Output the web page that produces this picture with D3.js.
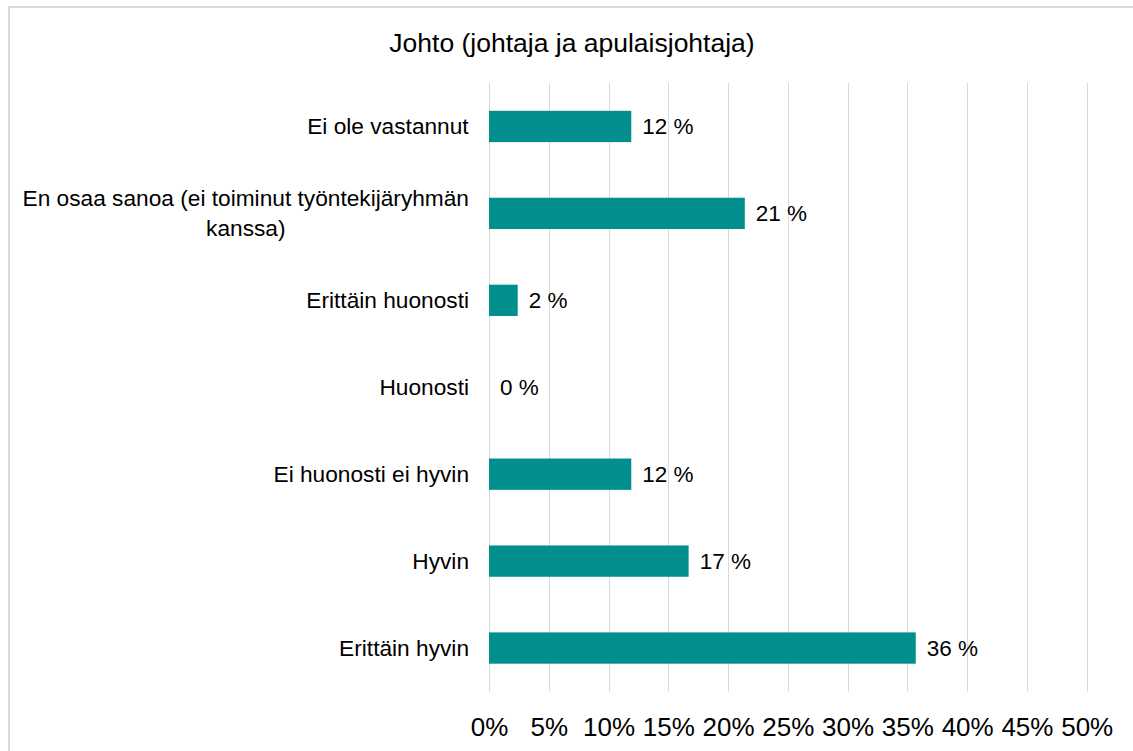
<!DOCTYPE html>
<html>
<head>
<meta charset="utf-8">
<script src="https://cdn.jsdelivr.net/npm/d3@7"></script>
<style>
    body { margin: 0; background: #fff; }
    text { font-family: "Liberation Sans", Arial, sans-serif; fill: #000; }
</style>
</head>
<body>
<svg id="chart"></svg>
<script>
// categories top to bottom, one entry per line of the label
const categories = [
    ['Ei ole vastannut'],
    ['En osaa sanoa (ei toiminut työntekijäryhmän', 'kanssa)'],
    ['Erittäin huonosti'],
    ['Huonosti'],
    ['Ei huonosti ei hyvin'],
    ['Hyvin'],
    ['Erittäin hyvin']
];
const values = [11.9, 21.4, 2.4, 0, 11.9, 16.7, 35.7];
const tickValues = [0, 5, 10, 15, 20, 25, 30, 35, 40, 45, 50];
const tickLabels = ['0%', '5%', '10%', '15%', '20%', '25%', '30%', '35%', '40%', '45%', '50%'];
const title = 'Johto (johtaja ja apulaisjohtaja)';

const width = 1133, height = 751;
const svg = d3.select('#chart').attr('width', width).attr('height', height);

// chart area border (right and bottom fall outside the picture)
svg.append('rect')
    .attr('x', 9).attr('y', 7)
    .attr('width', 1140).attr('height', 760)
    .attr('fill', 'none')
    .attr('stroke', '#d9d9d9')
    .attr('stroke-width', 2);

svg.append('text')
    .attr('x', 572).attr('y', 52)
    .attr('text-anchor', 'middle')
    .style('font-size', '26.5px')
    .text(title);

const plotTop = 83, plotBottom = 691.5;
const xscale = d3.scaleLinear().domain([0, 50]).range([489, 1086.7]);
const yscale = d3.scaleBand()
    .domain(d3.range(categories.length))
    .range([plotTop, plotBottom])
    .paddingInner(0.64)
    .paddingOuter(0.32);

// vertical gridlines
svg.append('g')
    .selectAll('line')
    .data(tickValues)
    .join('line')
    .attr('x1', d => Math.round(xscale(d)) + 0.5)
    .attr('x2', d => Math.round(xscale(d)) + 0.5)
    .attr('y1', plotTop)
    .attr('y2', plotBottom)
    .attr('stroke', '#d9d9d9')
    .attr('stroke-width', 1);

// x tick labels
const xaxis = d3.axisBottom(xscale)
    .tickValues(tickValues)
    .tickFormat((d, i) => tickLabels[i])
    .tickSize(0)
    .tickPadding(0);
const xaxis_group = svg.append('g')
    .attr('transform', `translate(0, 716)`)
    .call(xaxis);
xaxis_group.select('.domain').remove();
xaxis_group.selectAll('text')
    .attr('dy', '0.75em')
    .attr('y', 0)
    .style('font-size', '26px')
    .style('font-family', '"Liberation Sans", Arial, sans-serif')
    .attr('fill', '#000');

// bars
svg.append('g')
    .selectAll('rect')
    .data(values)
    .join('rect')
    .attr('x', xscale(0))
    .attr('y', (d, i) => yscale(i))
    .attr('width', d => xscale(d) - xscale(0))
    .attr('height', yscale.bandwidth())
    .attr('fill', '#008f8c');

// data labels
svg.append('g')
    .selectAll('text')
    .data(values)
    .join('text')
    .attr('x', d => xscale(d) + 11)
    .attr('y', (d, i) => yscale(i) + yscale.bandwidth() / 2 + 8)
    .style('font-size', '22.5px')
    .text(d => Math.round(d) + ' %');

// category labels, right aligned block with centred lines
const lineHeight = 30;
const labelRight = 469;
const catGroup = svg.append('g');
categories.forEach((lines, i) => {
    const cy = yscale(i) + yscale.bandwidth() / 2;
    const t = catGroup.append('text')
        .style('font-size', '22.7px')
        .attr('text-anchor', 'middle');
    lines.forEach((line, j) => {
        t.append('tspan')
            .attr('x', 0)
            .attr('y', cy + 8 + (j - (lines.length - 1) / 2) * lineHeight)
            .text(line);
    });
    const w = t.node().getBBox().width;
    t.attr('transform', `translate(${labelRight - w / 2}, 0)`);
});
</script>
</body>
</html>
